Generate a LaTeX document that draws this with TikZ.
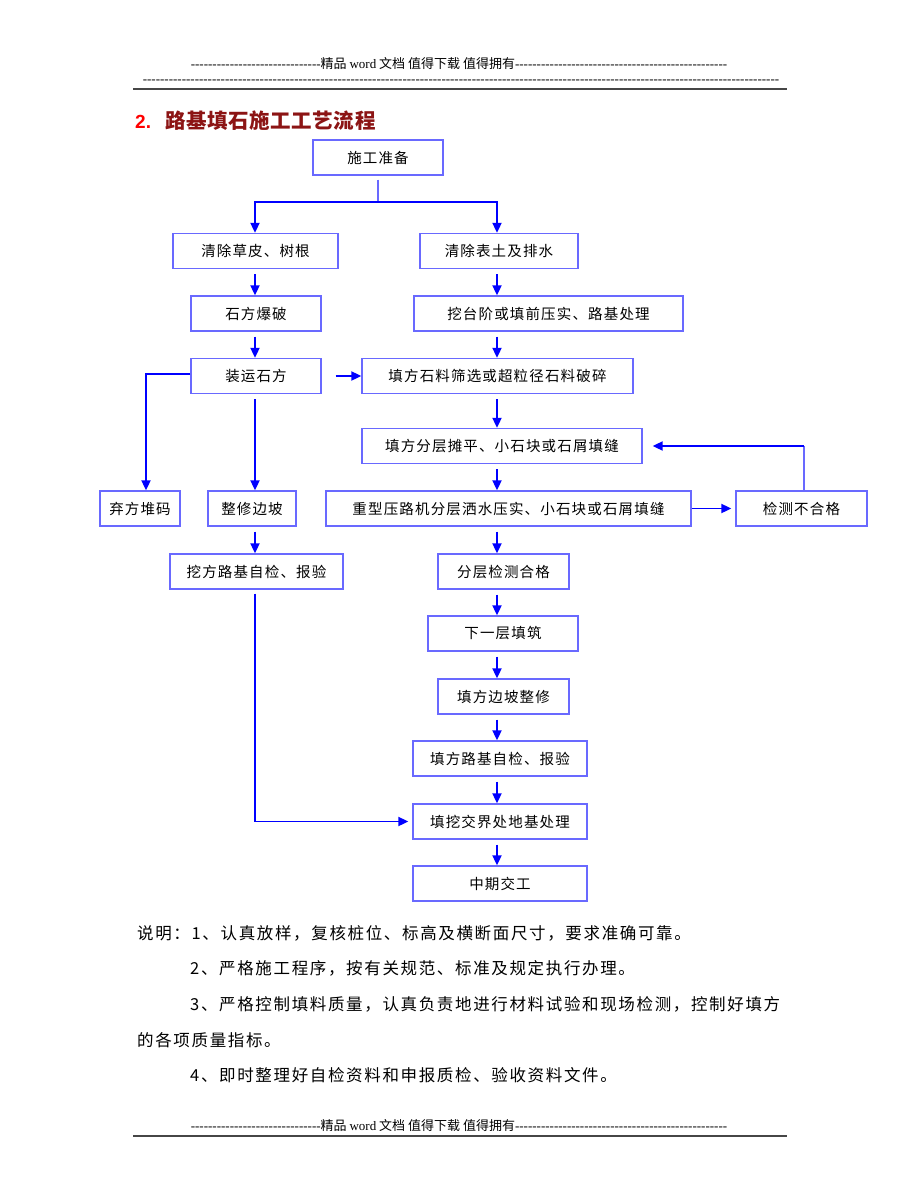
\documentclass[tikz,border=0pt]{standalone}
\usepackage{fontspec}
\usetikzlibrary{arrows.meta}
\setmainfont{Noto Sans CJK SC}
\newfontfamily\boxf[LetterSpace=8]{Noto Sans CJK SC}
\newfontfamily\notef[LetterSpace=10]{Noto Sans CJK SC}
\newfontfamily\titlef[LetterSpace=3]{Noto Sans CJK SC}
\newfontfamily\tnr{Liberation Serif}
\newfontfamily\arialf{Liberation Sans}
\newcommand\mydashes[1]{\foreach \i in {1,...,#1}{-\kern0pt}}
\definecolor{boxblue}{RGB}{105,105,255}
\definecolor{arrblue}{RGB}{0,0,255}
\definecolor{titlered}{RGB}{140,20,20}
\definecolor{rulegray}{RGB}{70,70,70}
\begin{document}
\begin{tikzpicture}[x=1pt,y=-1pt,
  box/.style={draw=boxblue,line width=1.3pt,inner sep=0pt,minimum height=35pt,
    font=\boxf\fontsize{14.5}{17}\selectfont},
  arr/.style={draw=arrblue,line width=1.8pt,-{Triangle[length=10pt,width=9pt]}},
  link/.style={draw=boxblue,line width=1.3pt},
  hdr/.style={inner sep=0pt,font=\fontsize{13}{15}\selectfont},
  note/.style={inner sep=0pt,anchor=west,font=\notef\fontsize{16.5}{19}\selectfont}]
\useasboundingbox (0,0) rectangle (920,1191);
\fill[white] (0,0) rectangle (920,1191);

% header
\node[hdr] (h1) at (459,64) {{\tnr\mydashes{30}}精品 {\tnr word} 文档 值得下载 值得拥有{\tnr\mydashes{49}}};
\node[hdr] (h2) at (461,82) {\tnr\mydashes{147}};
\draw[rulegray,line width=2pt] (133,89) -- (787,89);

% title
\node[inner sep=0pt,anchor=west] (title) at (135,121)
  {{\arialf\bfseries\fontsize{19}{22}\selectfont\color{red}2.}\hspace{14pt}{\titlef\bfseries\fontsize{20.5}{24}\selectfont\color{titlered}路基填石施工工艺流程}};

% coordinates of columns
\coordinate (L) at (255,0);
\coordinate (R) at (497,0);
\coordinate (LL) at (146,0);

% boxes
\node[box,minimum width=130pt] (a) at (378,157.5) {施工准备};
\node[box,minimum width=165pt] (b) at (255.5,251) {清除草皮、树根};
\node[box,minimum width=158pt] (c) at (499,251) {清除表土及排水};
\node[box,minimum width=130pt] (d) at (256,313.5) {石方爆破};
\node[box,minimum width=269pt] (e) at (548.5,313.5) {挖台阶或填前压实、路基处理};
\node[box,minimum width=130pt] (f) at (256,376) {装运石方};
\node[box,minimum width=271pt] (g) at (497.5,376) {填方石料筛选或超粒径石料破碎};
\node[box,minimum width=280pt] (h) at (502,446) {填方分层摊平、小石块或石屑填缝};
\node[box,minimum width=80pt] (i) at (140,508.5) {弃方堆码};
\node[box,minimum width=88pt] (j) at (252,508.5) {整修边坡};
\node[box,minimum width=365pt] (k) at (508.5,508.5) {重型压路机分层洒水压实、小石块或石屑填缝};
\node[box,minimum width=131pt] (l) at (801.5,508.5) {检测不合格};
\node[box,minimum width=173pt] (m) at (256.5,571.5) {挖方路基自检、报验};
\node[box,minimum width=131pt] (n) at (503.5,571.5) {分层检测合格};
\node[box,minimum width=150pt] (o) at (503,633.5) {下一层填筑};
\node[box,minimum width=131pt] (p) at (503.5,696.5) {填方边坡整修};
\node[box,minimum width=174pt] (q) at (500,758.5) {填方路基自检、报验};
\node[box,minimum width=174pt] (r) at (500,821.5) {填挖交界处地基处理};
\node[box,minimum width=174pt] (s) at (500,883.5) {中期交工};

% connectors
\coordinate (fk) at (378,202);
\draw[link] ([yshift=-4pt]a.south) -- (fk);
\draw[arr] (fk) -| (b.north -| L);
\draw[arr] (fk) -| (c.north -| R);
\draw[arr] ([yshift=-5pt]b.south -| L) -- (d.north -| L);
\draw[arr] ([yshift=-5pt]d.south -| L) -- (f.north -| L);
\draw[arr] ([yshift=-5pt]c.south -| R) -- (e.north -| R);
\draw[arr] ([yshift=-5pt]e.south -| R) -- (g.north -| R);
\draw[arr] ([yshift=-5pt]g.south -| R) -- (h.north -| R);
\draw[arr] ([yshift=-5pt]h.south -| R) -- (k.north -| R);
\draw[arr] ([yshift=-5pt]k.south -| R) -- (n.north -| R);
\draw[arr] ([yshift=-5pt]n.south -| R) -- (o.north -| R);
\draw[arr] ([yshift=-5pt]o.south -| R) -- (p.north -| R);
\draw[arr] ([yshift=-5pt]p.south -| R) -- (q.north -| R);
\draw[arr] ([yshift=-5pt]q.south -| R) -- (r.north -| R);
\draw[arr] ([yshift=-5pt]r.south -| R) -- (s.north -| R);
\draw[arr] ([xshift=14pt]f.east) -- (g.west);
\draw[arr] ([yshift=2pt]f.west) -| (i.north -| LL);
\draw[arr] ([yshift=-5pt]f.south -| L) -- (j.north -| L);
\draw[arr] ([yshift=-5pt]j.south -| L) -- (m.north -| L);
\draw[arr] ([yshift=-4pt]m.south -| L) |- ([xshift=-4pt]r.west);
\draw[arr] (k.east) -- ([xshift=-4pt]l.west);
\draw[link] ([xshift=2.5pt]l.north) -- ([xshift=2.5pt]l.north |- h.east);
\draw[arr] ([xshift=2.5pt]l.north |- h.east) -- ([xshift=10pt]h.east);

% notes
\node[note] (n1) at (137,933) {说明：1、认真放样，复核桩位、标高及横断面尺寸，要求准确可靠。};
\node[note] (n2) at (190,968) {2、严格施工程序，按有关规范、标准及规定执行办理。};
\node[note] (n3) at (190,1004) {3、严格控制填料质量，认真负责地进行材料试验和现场检测，控制好填方};
\node[note] (n4) at (137,1040) {的各项质量指标。};
\node[note] (n5) at (190,1075) {4、即时整理好自检资料和申报质检、验收资料文件。};

% footer
\node[hdr] (f1) at (459,1126) {{\tnr\mydashes{30}}精品 {\tnr word} 文档 值得下载 值得拥有{\tnr\mydashes{49}}};
\draw[rulegray,line width=2pt] (133,1136) -- (787,1136);
\end{tikzpicture}
\end{document}
